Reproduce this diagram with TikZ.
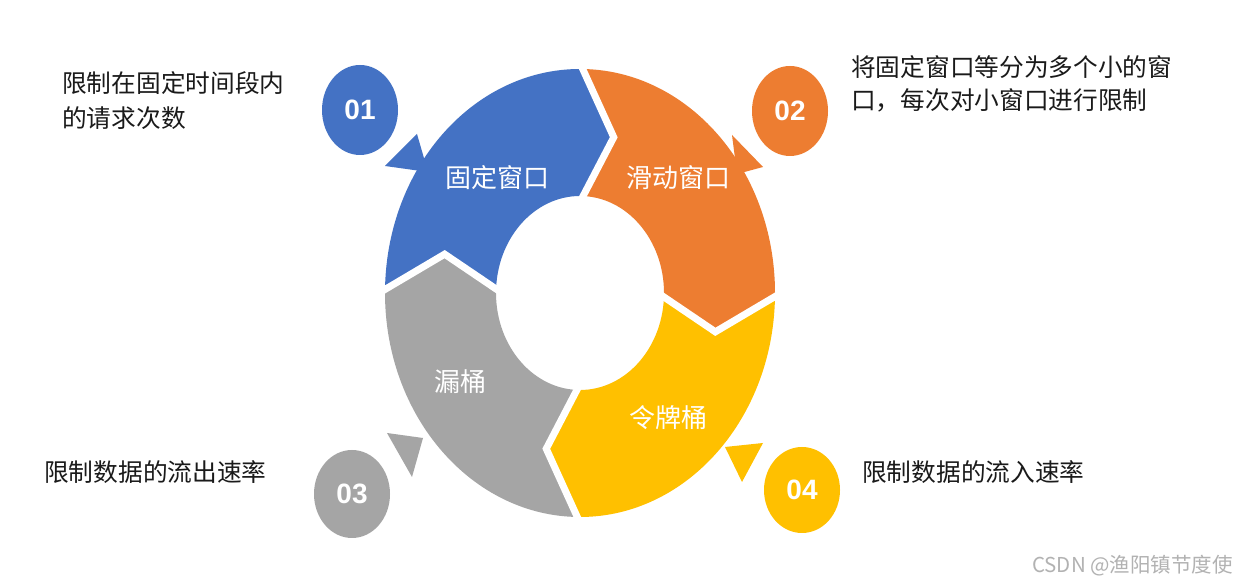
\documentclass[tikz,border=0pt]{standalone}
\usepackage{fontspec}
\setmainfont{Liberation Sans}
\newfontfamily\cjk{Noto Sans CJK SC}
\usetikzlibrary{shapes.geometric}
\definecolor{cblue}{HTML}{4472C4}
\definecolor{corange}{HTML}{ED7D31}
\definecolor{cgray}{HTML}{A5A5A5}
\definecolor{cyellow}{HTML}{FFC000}
\definecolor{ctext}{HTML}{1A1A1A}
\tikzset{
  ringlabel/.style={text=white, inner sep=0, font=\cjk\fontsize{26}{30}\selectfont},
  numbadge/.style={ellipse, minimum width=76, minimum height=90, inner sep=0, text=white, font=\bfseries\fontsize{28}{30}\selectfont},
  desc/.style={anchor=west, inner sep=0, text=ctext, font=\cjk\fontsize{24.7}{30}\selectfont},
  gapline/.style={white, line width=7, line join=miter},
}
\begin{document}
\begin{tikzpicture}[x=1pt,y=1pt]
\useasboundingbox (0,0) rectangle (1236,585);
\fill[white] (0,0) rectangle (1236,585);
\begin{scope}[shift={(580,292)}]
  % blue: left -> top
  \fill[cblue] (180:195 and 224) arc[start angle=180, end angle=90, x radius=195, y radius=224]
    -- (76:139.5 and 160.5) -- (90:84 and 97) arc[start angle=90, end angle=180, x radius=84, y radius=97]
    -- (166:139.5 and 160.5) -- cycle;
  % orange: top -> right
  \fill[corange] (90:195 and 224) arc[start angle=90, end angle=0, x radius=195, y radius=224]
    -- (-14:139.5 and 160.5) -- (0:84 and 97) arc[start angle=0, end angle=90, x radius=84, y radius=97]
    -- (76:139.5 and 160.5) -- cycle;
  % yellow: right -> bottom
  \fill[cyellow] (0:195 and 224) arc[start angle=0, end angle=-90, x radius=195, y radius=224]
    -- (-104:139.5 and 160.5) -- (-90:84 and 97) arc[start angle=-90, end angle=0, x radius=84, y radius=97]
    -- (-14:139.5 and 160.5) -- cycle;
  % gray: bottom -> left
  \fill[cgray] (-90:195 and 224) arc[start angle=-90, end angle=-180, x radius=195, y radius=224]
    -- (166:139.5 and 160.5) -- (180:84 and 97) arc[start angle=180, end angle=270, x radius=84, y radius=97]
    -- (-104:139.5 and 160.5) -- cycle;
  % white gaps
  \draw[gapline] (90:201 and 230) -- (76:139.5 and 160.5) -- (90:78 and 91);
  \draw[gapline] (0:201 and 230) -- (-14:139.5 and 160.5) -- (0:78 and 91);
  \draw[gapline] (-90:201 and 230) -- (-104:139.5 and 160.5) -- (-90:78 and 91);
  \draw[gapline] (180:201 and 230) -- (166:139.5 and 160.5) -- (180:78 and 91);
\end{scope}
% ring labels
\node[ringlabel] (l1) at (497,407) {固定窗口};
\node[ringlabel] (l2) at (678,407) {滑动窗口};
\node[ringlabel] (l3) at (460,203) {漏桶};
\node[ringlabel] (l4) at (668,167) {令牌桶};
% pointers
\fill[cblue] (385,419) -- (417,451) -- (428,413) -- cycle;
\fill[corange] (732,450) -- (763,418) -- (737,411) -- cycle;
\fill[cgray] (387,152) -- (423,147) -- (412,108) -- cycle;
\fill[cyellow] (725,138) -- (763,142) -- (742,103) -- cycle;
% badges
\node[numbadge, fill=cblue] (b1) at (360,475) {01};
\node[numbadge, fill=corange] (b2) at (790,474) {02};
\node[numbadge, fill=cgray, minimum height=88] (b3) at (352,91) {03};
\node[numbadge, fill=cyellow, minimum height=86] (b4) at (802,95) {04};
% descriptions
\node[desc] (d1a) at (62,502) {限制在固定时间段内};
\node[desc] (d1b) at (62,467) {的请求次数};
\node[desc] (d2a) at (851,518) {将固定窗口等分为多个小的窗};
\node[desc] (d2b) at (851,485) {口，每次对小窗口进行限制};
\node[desc] (d3) at (44,113) {限制数据的流出速率};
\node[desc] (d4) at (862,113) {限制数据的流入速率};
\node[anchor=east, inner sep=0, text=black!30, font=\cjk\fontsize{20.5}{22}\selectfont] (wm) at (1233,19) {CSDN @渔阳镇节度使};
\end{tikzpicture}
\end{document}
